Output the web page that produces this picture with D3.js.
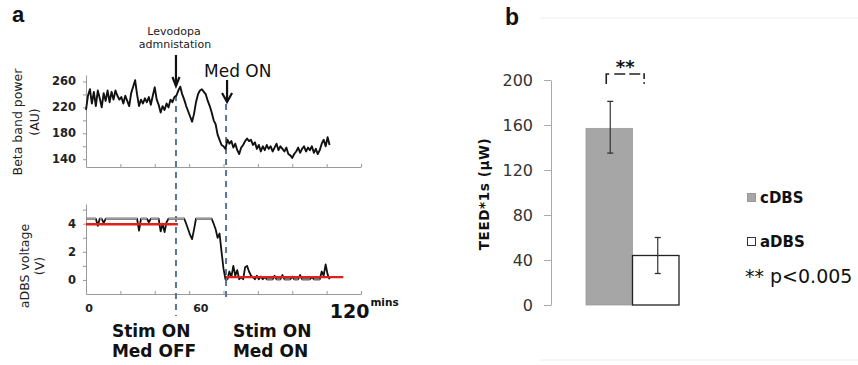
<!DOCTYPE html>
<html><head><meta charset="utf-8">
<script src="https://cdn.jsdelivr.net/npm/d3@7"></script>
<style>body{margin:0;background:#fff}svg{display:block}</style>
</head><body><svg id="c" width="858" height="365"></svg>
<script>
// ---- Panel a data (one sample per minute) ----
const betaPower = [216,238,248,226,244,222,246,234,220,242,
 230,246,228,244,232,246,238,232,236,226,
 238,230,222,242,252,262,240,222,232,226,
 234,228,236,224,238,251,232,224,212,222,
 216,226,220,232,228,236,238,246,252,240,
 232,222,214,206,198,210,228,240,246,248,
 244,240,230,222,212,200,194,178,170,162,
 160,156,170,164,168,158,164,154,148,158,
 162,168,172,168,170,162,166,156,162,152,
 160,154,162,156,160,152,158,164,154,160,
 156,152,158,148,146,142,148,152,158,150,
 156,160,152,158,154,160,150,156,148,154,
 164,170,160,174,162];
const aDBSVoltage = [4.35,4.35,4.35,4.35,4.35,4.35,3.85,4.35,4.35,4.05,
 4.35,4.35,4.35,4.35,4.35,4.35,4.35,4.35,4.35,4.35,
 4.35,4.35,4.35,4.35,4.35,4.35,4.35,3.5,4.35,4.35,
 4.35,4.35,4.1,4.35,4.35,4.35,4.35,4.35,3.45,4.0,
 3.4,4.1,4.35,4.35,4.35,4.35,4.35,4.35,4.35,4.35,
 4.35,4.0,3.6,3.2,2.9,3.6,4.35,4.35,4.35,4.35,
 4.35,4.35,4.35,4.35,4.35,4.0,3.6,3.0,3.3,2.0,
 0.8,0.05,0.05,0.6,0.2,1.0,0.3,0.7,0.05,0.2,
 0.05,0.9,1.0,0.6,0.3,0.2,0.05,0.3,0.05,0.25,
 0.05,0.2,0.05,0.05,0.05,0.05,0.3,0.05,0.05,0.05,
 0.35,0.05,0.05,0.05,0.05,0.25,0.05,0.05,0.05,0.35,
 0.05,0.05,0.05,0.05,0.05,0.2,0.05,0.05,0.05,0.05,
 0.6,0.3,1.1,0.4,0.05];
const satHigh = 4.35, satLow = 0.05;
const redFits = [{t0:0, t1:46.8, v:3.96}, {t0:71.3, t1:131, v:0.2}];
const betaTicks = [140,160,180,200,220,240,260];
const betaTickLabels = [140,180,220,260];
const voltTicks = [0,1,2,3,4,5];
const voltTickLabels = [0,2,4];
const timeTicks = [0,17.5,35,52.5,70,87.5,105,122.5,140];
const timeTickLabels = [0,60];
const timeEndLabel = {t:120, text:"120", unit:"mins"};
const levodopaTime = 45.8, medOnTime = 71.3;
const stateLabels = [{t:13.2, lines:["Stim ON","Med OFF"]}, {t:74.8, lines:["Stim ON","Med ON"]}];

// ---- Panel b data ----
const groups = ["cDBS","aDBS"];
const teed = [157, 44];
const teedLow = [135, 28];
const teedHigh = [181, 60];
const teedTicks = [0,40,80,120,160,200];
const groupColors = ["#a6a6a6","#ffffff"];

const svg = d3.select("#c");
svg.append("rect").attr("width",858).attr("height",365).attr("fill","#fff");
const F = "'DejaVu Sans', Verdana, sans-serif";

// ---------- Panel a ----------
const x = d3.scaleLinear().domain([0,140]).range([86,361]);
const yB = d3.scaleLinear().domain([128,270]).range([167,75]);
const yV = d3.scaleLinear().domain([-1,5.4]).range([294,204]);
const axisCol = "#9a9a9a";

function styleAxis(g){
  g.selectAll("path.domain").attr("stroke",axisCol).attr("stroke-width",1);
  g.selectAll(".tick line").attr("stroke",axisCol);
  g.selectAll(".tick text").remove();
}
svg.append("g").attr("transform",`translate(0,${yB.range()[0]})`)
  .call(d3.axisBottom(x).tickValues(timeTicks).tickSizeInner(-3).tickSizeOuter(0)).call(styleAxis);
svg.append("g").attr("transform",`translate(${x(0)},0)`)
  .call(d3.axisLeft(yB).tickValues(betaTicks).tickSizeInner(3).tickSizeOuter(0)).call(styleAxis);
svg.append("g").attr("transform",`translate(0,${yV.range()[0]})`)
  .call(d3.axisBottom(x).tickValues(timeTicks).tickSizeInner(-3).tickSizeOuter(0)).call(styleAxis);
svg.append("g").attr("transform",`translate(${x(0)},0)`)
  .call(d3.axisLeft(yV).tickValues(voltTicks).tickSizeInner(3).tickSizeOuter(0)).call(styleAxis);

svg.selectAll(".bl").data(betaTickLabels).join("text")
  .attr("x",x(0)-10).attr("y",d=>yB(d)+4).attr("text-anchor","end")
  .attr("font-family",F).attr("font-weight","bold").attr("font-size",11.5).attr("fill","#222").text(d=>d);
svg.selectAll(".vl").data(voltTickLabels).join("text")
  .attr("x",x(0)-10).attr("y",d=>yV(d)+4).attr("text-anchor","end")
  .attr("font-family",F).attr("font-weight","bold").attr("font-size",11.5).attr("fill","#222").text(d=>d);
svg.selectAll(".tl").data(timeTickLabels).join("text")
  .attr("x",d=>x(d)+(d===0?3:-3)).attr("y",312).attr("text-anchor","middle")
  .attr("font-family",F).attr("font-weight","bold").attr("font-size",11).attr("fill","#222").text(d=>d);
const endT = svg.append("text").attr("x",x(timeEndLabel.t)+8).attr("y",318)
  .attr("font-family",F).attr("font-weight","bold").attr("fill","#111");
endT.append("tspan").attr("font-size",19).text(timeEndLabel.text);
endT.append("tspan").attr("font-size",10.5).attr("dy",-12).attr("dx",1).text(timeEndLabel.unit);

function vtitle(lines, xs, cy, size, weight){
  lines.forEach((t,i)=>{
    svg.append("text").attr("transform",`translate(${xs[i]},${cy}) rotate(-90)`)
      .attr("text-anchor","middle").attr("font-family",F).attr("font-size",size)
      .attr("font-weight",weight).attr("fill","#222").text(t);
  });
}
vtitle(["Beta band power","(AU)"],[22,39],122,12.5,"normal");
vtitle(["aDBS voltage","(V)"],[29,44],266,12.5,"normal");

const evCol = "#56769b";
svg.append("line").attr("x1",x(levodopaTime)).attr("x2",x(levodopaTime)).attr("y1",95).attr("y2",316)
  .attr("stroke",evCol).attr("stroke-width",2).attr("stroke-dasharray","6,5");
svg.append("line").attr("x1",x(medOnTime)).attr("x2",x(medOnTime)).attr("y1",104).attr("y2",302)
  .attr("stroke",evCol).attr("stroke-width",2).attr("stroke-dasharray","6,5");

const lineB = d3.line().x((d,i)=>x(i)).y(d=>yB(d));
svg.append("path").attr("d",lineB(betaPower)).attr("fill","none").attr("stroke","#111")
  .attr("stroke-width",1.9).attr("stroke-linejoin","round");

const lineV = d3.line().x((d,i)=>x(i)).y(d=>yV(d));
svg.append("path").attr("d",lineV(aDBSVoltage)).attr("fill","none").attr("stroke","#111")
  .attr("stroke-width",1.8).attr("stroke-linejoin","round");
svg.append("path").attr("d",d3.line().x((d,i)=>x(i)).y(d=>yV(d)).defined(d=>d>=satHigh)(aDBSVoltage)).attr("fill","none")
  .attr("stroke","#9c9c9c").attr("stroke-width",2.2);
svg.append("path").attr("d",d3.line().x((d,i)=>x(i)).y(d=>yV(d)).defined(d=>d<=satLow)(aDBSVoltage))
  .attr("fill","none").attr("stroke","#7a7a7a").attr("stroke-width",2);
svg.selectAll(".fit").data(redFits).join("line")
  .attr("x1",d=>x(d.t0)).attr("x2",d=>x(d.t1)).attr("y1",d=>yV(d.v)).attr("y2",d=>yV(d.v))
  .attr("stroke","#e0201b").attr("stroke-width",2.4);

function arrow(xp, y1, y2, hw, hh, sw){
  svg.append("line").attr("x1",xp).attr("x2",xp).attr("y1",y1).attr("y2",y2)
    .attr("stroke","#111").attr("stroke-width",sw);
  svg.append("path").attr("d",`M${xp-hw},${y2-hh}L${xp},${y2}L${xp+hw},${y2-hh}`)
    .attr("fill","none").attr("stroke","#111").attr("stroke-width",sw).attr("stroke-linejoin","miter");
}
arrow(x(levodopaTime), 55, 86, 3.5, 9, 2.2);
arrow(x(medOnTime)+1, 80, 102, 5, 9, 2.2);

svg.append("text").attr("x",x(levodopaTime)-2).attr("y",35).attr("text-anchor","middle")
  .attr("font-family",F).attr("font-size",11).attr("fill","#222").text("Levodopa");
svg.append("text").attr("x",x(levodopaTime)-1).attr("y",48).attr("text-anchor","middle")
  .attr("font-family",F).attr("font-size",11).attr("fill","#222").text("admnistation");
svg.append("text").attr("x",x(medOnTime)-22).attr("y",77)
  .attr("font-family",F).attr("font-size",17).attr("fill","#111").text("Med ON");
stateLabels.forEach(s=>{
  s.lines.forEach((t,i)=>{
    svg.append("text").attr("x",x(s.t)).attr("y",337+i*20)
      .attr("font-family",F).attr("font-weight","bold").attr("font-size",17).attr("fill","#111").text(t);
  });
});
svg.append("text").attr("x",12).attr("y",22).attr("font-family","'Liberation Sans', Arial, sans-serif")
  .attr("font-weight","bold").attr("font-size",22).attr("fill","#111").text("a");

// ---------- Panel b ----------
svg.append("line").attr("x1",540).attr("x2",858).attr("y1",18).attr("y2",18).attr("stroke","#eeeeee");
svg.append("line").attr("x1",540).attr("x2",858).attr("y1",360).attr("y2",360).attr("stroke","#eeeeee");
svg.append("text").attr("x",505).attr("y",25).attr("font-family","'Liberation Sans', Arial, sans-serif")
  .attr("font-weight","bold").attr("font-size",23).attr("fill","#111").text("b");

const yT = d3.scaleLinear().domain([0,200]).range([305,80]);
const xb = d3.scaleBand().domain(groups).range([586,679]).padding(0);
const axB = svg.append("g").attr("transform","translate(551,0)")
  .call(d3.axisLeft(yT).tickValues(teedTicks).tickSizeInner(7).tickSizeOuter(0).tickPadding(11));
axB.selectAll("path.domain").attr("stroke","#aaa");
axB.selectAll(".tick line").attr("stroke","#aaa");
axB.selectAll(".tick text").attr("font-family",F).attr("font-size",16).attr("fill","#333");

svg.append("text").attr("transform","translate(489,194) rotate(-90)").attr("text-anchor","middle")
  .attr("font-family",F).attr("font-weight","bold").attr("font-size",13.5).attr("fill","#111")
  .attr("letter-spacing",0.6).text("TEED*1s (μW)");

svg.selectAll(".bar").data(groups).join("rect")
  .attr("x",d=>xb(d)).attr("width",xb.bandwidth())
  .attr("y",(d,i)=>yT(teed[i])).attr("height",(d,i)=>yT(0)-yT(teed[i]))
  .attr("fill",(d,i)=>groupColors[i]).attr("stroke",(d,i)=>i===0?"#9c9c9c":"#222").attr("stroke-width",(d,i)=>i===0?0.8:1.3);

groups.forEach((g,i)=>{
  const cx = xb(g)+xb.bandwidth()/2 + (i===0?1:2);
  svg.append("line").attr("x1",cx).attr("x2",cx).attr("y1",yT(teedLow[i])).attr("y2",yT(teedHigh[i]))
    .attr("stroke","#333").attr("stroke-width",1.2);
  [teedLow[i],teedHigh[i]].forEach(v=>{
    svg.append("line").attr("x1",cx-3).attr("x2",cx+3).attr("y1",yT(v)).attr("y2",yT(v))
      .attr("stroke","#333").attr("stroke-width",1.3);
  });
});

// significance bracket  [ — — ]
const bx1 = xb("cDBS")+xb.bandwidth()/2-3, bx2 = xb("aDBS")+xb.bandwidth()/4;
const by = yT(200)-6;
svg.append("path").attr("d",`M${bx1},${by+10}V${by}H${bx2}V${by+5}`).attr("fill","none")
  .attr("stroke","#222").attr("stroke-width",1.6).attr("stroke-dasharray","13,5,11,4,11,3,12");
svg.append("circle").attr("cx",bx2).attr("cy",by+9).attr("r",0.9).attr("fill","#222");
svg.append("text").attr("x",(bx1+bx2)/2).attr("y",by-1).attr("text-anchor","middle")
  .attr("font-family",F).attr("font-weight","bold").attr("font-size",18).attr("fill","#111").text("**");

groups.forEach((g,i)=>{
  const ly = 193 + i*44;
  svg.append("rect").attr("x",747.5).attr("y",ly+0.5).attr("width",8).attr("height",8)
    .attr("fill",groupColors[i]).attr("stroke",i===0?"#999":"#333").attr("stroke-width",1);
  svg.append("text").attr("x",760).attr("y",ly+9.5).attr("font-family",F).attr("font-weight","bold")
    .attr("font-size",15).attr("fill","#111").text(g);
});
svg.append("text").attr("x",745).attr("y",283).attr("font-family",F).attr("font-size",19)
  .attr("fill","#111").text("** p<0.005");
</script></body></html>
